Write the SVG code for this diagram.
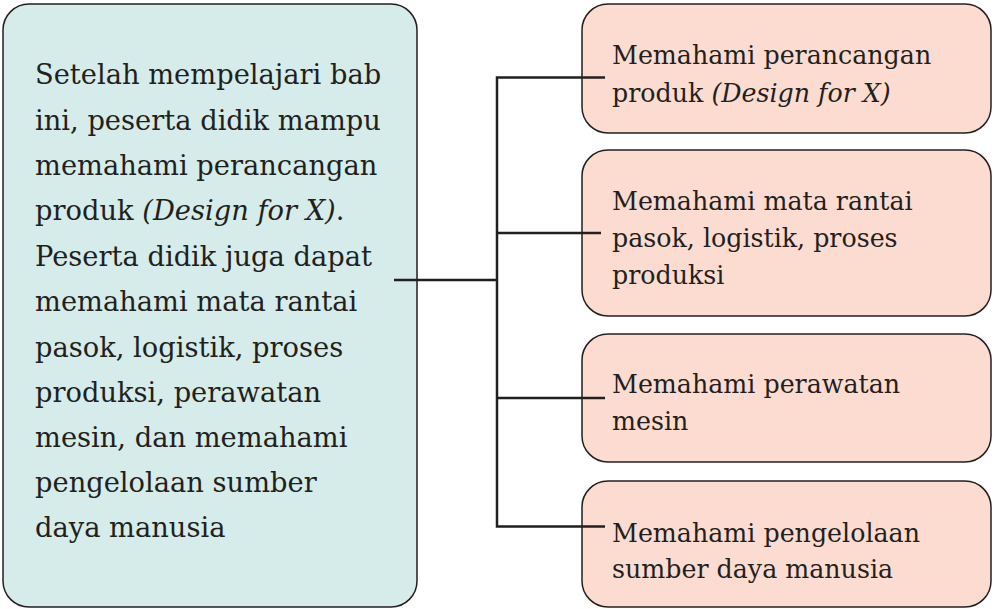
<svg xmlns="http://www.w3.org/2000/svg" width="995" height="609" viewBox="0 0 995 609">
<style>
.box{stroke:#231f20;stroke-width:1.5}
.l{fill:#d5ecea}
.r{fill:#fcdcd0}
text{font-family:"DejaVu Serif","Liberation Serif",serif;fill:#231f20}
.lt{font-size:27.3px}
.rt{font-size:25.3px}
.it{font-style:italic}
.c{fill:none;stroke:#231f20;stroke-width:2.5}
</style>
<g id="main">
<rect class="box l" x="3" y="4" width="414" height="603" rx="26"/>
<text class="lt" x="35">
<tspan x="35" y="84">Setelah mempelajari bab</tspan>
<tspan x="35" y="129.5">ini, peserta didik mampu</tspan>
<tspan x="35" y="175">memahami perancangan</tspan>
<tspan x="35" y="220">produk <tspan class="it">(Design for X)</tspan>.</tspan>
<tspan x="35" y="265.5">Peserta didik juga dapat</tspan>
<tspan x="35" y="311">memahami mata rantai</tspan>
<tspan x="35" y="356.5">pasok, logistik, proses</tspan>
<tspan x="35" y="401.5">produksi, perawatan</tspan>
<tspan x="35" y="447">mesin, dan memahami</tspan>
<tspan x="35" y="492">pengelolaan sumber</tspan>
<tspan x="35" y="537">daya manusia</tspan>
</text>
</g>
<g id="n1">
<rect class="box r" x="582" y="4" width="409" height="129" rx="26"/>
<text class="rt"><tspan x="612" y="64">Memahami perancangan</tspan><tspan x="612" y="102">produk <tspan class="it">(Design for X)</tspan></tspan></text>
</g>
<g id="n2">
<rect class="box r" x="582" y="150" width="409" height="166" rx="26"/>
<text class="rt"><tspan x="612" y="210">Memahami mata rantai</tspan><tspan x="612" y="247">pasok, logistik, proses</tspan><tspan x="612" y="284">produksi</tspan></text>
</g>
<g id="n3">
<rect class="box r" x="582" y="334" width="409" height="128" rx="26"/>
<text class="rt"><tspan x="612" y="393">Memahami perawatan</tspan><tspan x="612" y="430">mesin</tspan></text>
</g>
<g id="n4">
<rect class="box r" x="582" y="481" width="409" height="126" rx="26"/>
<text class="rt"><tspan x="612" y="542">Memahami pengelolaan</tspan><tspan x="612" y="578">sumber daya manusia</tspan></text>
</g>
<g id="connectors">
<path class="c" d="M394 280H498"/>
<path class="c" d="M605 77.5H497V526.5H605"/>
<path class="c" d="M497 233H601"/>
<path class="c" d="M497 398H605"/>
</g>
</svg>
